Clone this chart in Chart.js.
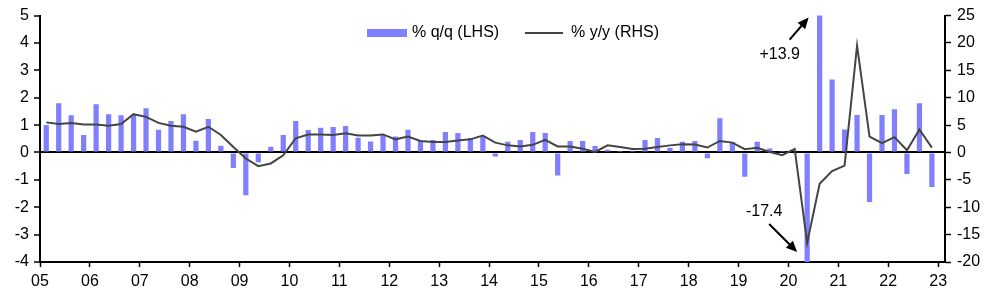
<!DOCTYPE html>
<html>
<head>
<meta charset="utf-8">
<script src="https://cdn.jsdelivr.net/npm/chart.js@4"></script>
<style>
  body { margin: 0; background: #fff; }
  canvas { display: block; }
</style>
</head>
<body>
<canvas id="gdpChart" width="1002" height="294"></canvas>
<script>
// quarters 2005Q1 - 2022Q4
const quarters = [
  "05Q1","05Q2","05Q3","05Q4","06Q1","06Q2","06Q3","06Q4",
  "07Q1","07Q2","07Q3","07Q4","08Q1","08Q2","08Q3","08Q4",
  "09Q1","09Q2","09Q3","09Q4","10Q1","10Q2","10Q3","10Q4",
  "11Q1","11Q2","11Q3","11Q4","12Q1","12Q2","12Q3","12Q4",
  "13Q1","13Q2","13Q3","13Q4","14Q1","14Q2","14Q3","14Q4",
  "15Q1","15Q2","15Q3","15Q4","16Q1","16Q2","16Q3","16Q4",
  "17Q1","17Q2","17Q3","17Q4","18Q1","18Q2","18Q3","18Q4",
  "19Q1","19Q2","19Q3","19Q4","20Q1","20Q2","20Q3","20Q4",
  "21Q1","21Q2","21Q3","21Q4","22Q1","22Q2","22Q3","22Q4"
];

// % q/q (LHS)
const qoq = [
  1.00, 1.80, 1.36, 0.64,  1.76, 1.40, 1.36, 1.38,
  1.62, 0.83, 1.15, 1.40,  0.43, 1.22, 0.25, -0.57,
  -1.56, -0.36, 0.21, 0.64,  1.15, 0.82, 0.90, 0.93,
  0.97, 0.54, 0.40, 0.64,  0.58, 0.83, 0.42, 0.46,
  0.75, 0.71, 0.53, 0.57,  -0.15, 0.39, 0.46, 0.75,
  0.71, -0.84, 0.42, 0.42,  0.24, 0.10, 0.02, 0.06,
  0.46, 0.53, 0.17, 0.39,  0.42, -0.21, 1.25, 0.38,
  -0.89, 0.39, 0.15, 0.02,  -0.03, -17.4, 13.9, 2.67,
  0.84, 1.37, -1.81, 1.37,  1.58, -0.79, 1.80, -1.26
];

// % y/y (RHS)
const yoy = [
  5.5, 5.2, 5.4, 5.1,  5.1, 4.9, 5.2, 7.0,
  6.5, 5.4, 4.9, 4.7,  3.8, 4.7, 3.2, 1.0,
  -1.1, -2.5, -2.0, -0.5,  2.6, 3.3, 3.3, 3.2,
  3.5, 3.1, 3.1, 3.3,  2.4, 2.9, 2.1, 1.9,
  1.9, 2.2, 2.4, 3.1,  1.8, 1.3, 1.1, 1.4,
  2.3, 1.1, 1.1, 0.7,  0.1, 1.3, 1.0, 0.65,
  0.7, 1.0, 1.3, 1.5,  1.45, 0.9, 2.1, 1.8,
  0.6, 0.85, 0.1, -0.5,  0.65, -16.5, -5.7, -3.4,
  -2.4, 19.5, 2.9, 1.7,  2.8, 0.4, 4.2, 0.9
];

const yearLabels = ["05","06","07","08","09","10","11","12","13","14",
                    "15","16","17","18","19","20","21","22","23"];

const seriesNames = ["% q/q (LHS)", "% y/y (RHS)"];
const calloutUp = { quarter: "20Q3", text: "+13.9" };
const calloutDown = { quarter: "20Q2", text: "-17.4" };

const FONT = "Arial, 'Liberation Sans', sans-serif";
const BAR_COLOR = "#8080ff";
const LINE_COLOR = "#444444";

// each quarter sits in the middle of its slot on the year axis
const toPoints = vals => quarters.map((q, i) => ({ x: i + 0.5, y: vals[i] }));

function arrow(ctx, x1, y1, x2, y2) {
  const ang = Math.atan2(y2 - y1, x2 - x1);
  const head = 11, half = 5;
  ctx.beginPath();
  ctx.moveTo(x1, y1);
  ctx.lineTo(x2 - Math.cos(ang) * head * 0.8, y2 - Math.sin(ang) * head * 0.8);
  ctx.lineWidth = 2;
  ctx.strokeStyle = "#000";
  ctx.stroke();
  ctx.beginPath();
  ctx.moveTo(x2, y2);
  ctx.lineTo(x2 - Math.cos(ang) * head + Math.sin(ang) * half,
             y2 - Math.sin(ang) * head - Math.cos(ang) * half);
  ctx.lineTo(x2 - Math.cos(ang) * head - Math.sin(ang) * half,
             y2 - Math.sin(ang) * head + Math.cos(ang) * half);
  ctx.closePath();
  ctx.fillStyle = "#000";
  ctx.fill();
}

const extras = {
  id: "extras",
  afterDraw(chart) {
    const { ctx, scales } = chart;
    const xs = scales.x, ys = scales.y;
    ctx.save();
    ctx.font = "16px " + FONT;
    ctx.textBaseline = "middle";

    // legend
    const ly = 33;
    let lx = 367;
    ctx.fillStyle = BAR_COLOR;
    ctx.fillRect(lx, ly - 4, 40, 8);
    ctx.fillStyle = "#000";
    ctx.textAlign = "left";
    ctx.fillText(seriesNames[0], lx + 45, ly);
    lx = 525;
    ctx.beginPath();
    ctx.moveTo(lx, ly);
    ctx.lineTo(lx + 38, ly);
    ctx.strokeStyle = LINE_COLOR;
    ctx.lineWidth = 2;
    ctx.stroke();
    ctx.fillText(seriesNames[1], lx + 46, ly);

    // callouts for the off-scale bars
    const xu = xs.getPixelForValue(quarters.indexOf(calloutUp.quarter) + 0.5);
    const yTop = ys.getPixelForValue(ys.max);
    arrow(ctx, xu - 30, yTop + 24, xu - 11, yTop + 2);
    ctx.textAlign = "center";
    ctx.fillStyle = "#000";
    ctx.fillText(calloutUp.text, xu - 40, yTop + 39);

    const xd = xs.getPixelForValue(quarters.indexOf(calloutDown.quarter) + 0.5);
    const yBot = ys.getPixelForValue(ys.min);
    arrow(ctx, xd - 38, yBot - 38, xd - 10, yBot - 10);
    ctx.fillText(calloutDown.text, xd - 43, yBot - 50);
    ctx.restore();
  }
};

const tickFont = { family: FONT, size: 16 };

new Chart(document.getElementById("gdpChart").getContext("2d"), {
  data: {
    datasets: [
      {
        type: "line",
        label: seriesNames[1],
        data: toPoints(yoy),
        yAxisID: "y2",
        borderColor: LINE_COLOR,
        borderWidth: 2,
        pointRadius: 0,
        tension: 0,
        order: 0
      },
      {
        type: "bar",
        label: seriesNames[0],
        data: toPoints(qoq),
        yAxisID: "y",
        backgroundColor: BAR_COLOR,
        categoryPercentage: 1,
        barPercentage: 0.42,
        order: 1
      }
    ]
  },
  options: {
    responsive: false,
    animation: false,
    layout: { padding: { top: 13, left: 0, right: 0, bottom: 0 } },
    plugins: { legend: { display: false }, tooltip: { enabled: false } },
    scales: {
      x: {
        type: "linear",
        position: "bottom",
        offset: false,
        min: 0,
        max: 72.55,
        afterFit: s => { s.height = 32; },
        ticks: {
          stepSize: 4,
          includeBounds: false,
          autoSkip: false,
          maxRotation: 0,
          padding: 5,
          color: "#000",
          font: tickFont,
          callback: v => yearLabels[v / 4]
        },
        grid: { offset: false, drawOnChartArea: false, color: "#000", tickLength: 5, tickWidth: 1.5 },
        border: { color: "#000", width: 2 }
      },
      y: {
        position: "left",
        min: -4,
        max: 5,
        afterFit: s => { s.width = 40; },
        ticks: { stepSize: 1, padding: 5, color: "#000", font: tickFont },
        grid: {
          color: c => (c.tick && c.tick.value === 0 ? "#000" : "rgba(0,0,0,0)"),
          lineWidth: 2,
          tickColor: "#000",
          tickWidth: 1.5,
          tickLength: 6
        },
        border: { color: "#000", width: 2 }
      },
      y2: {
        position: "right",
        min: -20,
        max: 25,
        afterFit: s => { s.width = 57; },
        ticks: { stepSize: 5, padding: 6, color: "#000", font: tickFont },
        grid: { drawOnChartArea: false, color: "#000", tickWidth: 1.5, tickLength: 6 },
        border: { color: "#000", width: 2 }
      }
    }
  },
  plugins: [extras]
});
</script>
</body>
</html>
